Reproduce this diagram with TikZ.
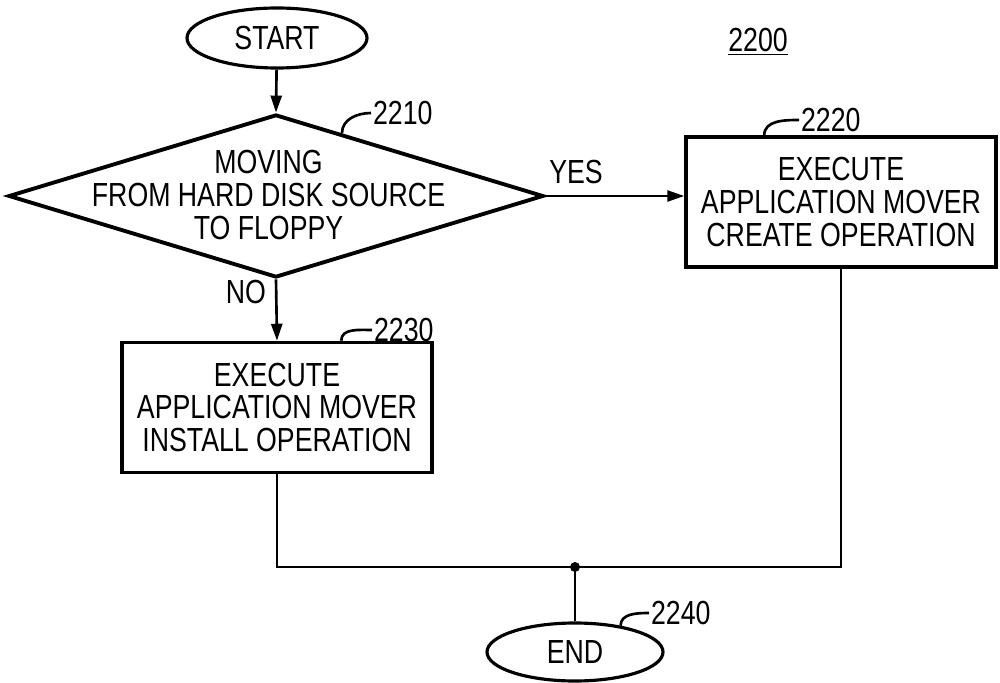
\documentclass[tikz,border=0pt]{standalone}
\usepackage{fontspec}
\setmainfont{Liberation Sans}[FakeStretch=0.8]
\usetikzlibrary{shapes.geometric, arrows.meta, positioning, calc}

\begin{document}
\begin{tikzpicture}[
      block/.style={draw, rectangle, line width=2pt, minimum height=2.6cm, minimum width=6.2cm, align=center, inner sep=0pt, font=\fontsize{19}{18.5}\selectfont},
      term/.style={draw, ellipse, line width=1.8pt, minimum width=3.6cm, minimum height=1.2cm, inner sep=0pt, font=\fontsize{19}{19}\selectfont},
      decision/.style={draw, diamond, line width=2.2pt, minimum width=10.7cm, minimum height=3.26cm, inner sep=0pt},
      refnum/.style={inner sep=1pt, font=\fontsize{19}{19}\selectfont},
      line/.style={draw, line width=1.5pt, -{Triangle[length=0.34cm, width=0.22cm]}},
      wire/.style={draw, line width=1.5pt}
  ]
      \useasboundingbox (0,0) rectangle (20,13.64);

      % Top: start
      \node [term] (start) at (5.54, 12.88) {START};

      % Decision
      \node [decision] (dec) at (5.52, 9.72) {};
      \node [align=center, inner sep=0pt, font=\fontsize{19}{18.5}\selectfont] (decText) at ($(dec)+(-0.15,0.02)$) {MOVING\\FROM HARD DISK SOURCE\\TO FLOPPY};

      % Operations
      \node [block] (create) at (16.82, 9.6) {EXECUTE\\APPLICATION MOVER\\CREATE OPERATION};
      \node [block] (install) at (5.54, 5.49) {EXECUTE\\APPLICATION MOVER\\INSTALL OPERATION};

      % Bottom: end
      \coordinate (junc) at (11.5, 2.3);
      \node [term, minimum width=3.52cm, minimum height=1.16cm] (end) at (11.5, 0.6) {END};

      % Reference numbers
      \node [refnum] (fig) at (15.16, 12.8) {\underline{2200}};
      \node [refnum, anchor=west] (n2210) at (7.42, 11.38) {2210};
      \node [refnum, anchor=west] (n2220) at (15.98, 11.24) {2220};
      \node [refnum, anchor=west] (n2230) at (7.44, 7.04) {2230};
      \node [refnum, anchor=west] (n2240) at (12.98, 1.38) {2240};

      % Connections
      \path [line] (start) -- (dec.north);
      \path [line] (dec.east) -- node[pos=0.22, above=0.22cm, font=\fontsize{19}{19}\selectfont, inner sep=0pt] {YES} (dec.east -| create.west);
      \path [line] (dec.south) -- node[pos=0.2, left=0.18cm, font=\fontsize{19}{19}\selectfont, inner sep=0pt] {NO} (install.north);
      \path [wire] (install.south) |- (junc) -| (create.south);
      \path [wire] (junc) -- (end.north);
      \fill (junc) circle (0.1);

      % Leaders
      \path [wire] ($(dec.north)!0.245!(dec.east)$) to[out=90, in=180] (n2210.west);
      \path [wire] ($(create.north west)+(1.6,0)$) to[out=90, in=180] (n2220.west);
      \path [wire] ($(install.north west)+(4.42,0)$) to[out=90, in=180] (n2230.west);
      \path [wire] (end.30) to[out=90, in=180] (n2240.west);
  \end{tikzpicture}
\end{document}
